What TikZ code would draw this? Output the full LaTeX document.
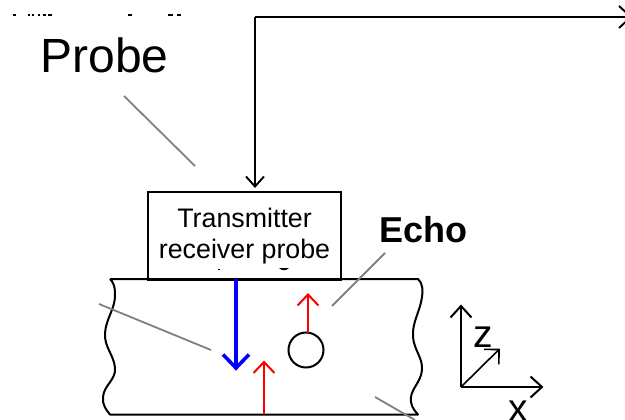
\documentclass[tikz,border=0pt]{standalone}
\usepackage{fontspec}
\setmainfont{Liberation Sans}
\usetikzlibrary{calc}
\tikzset{
  outline/.style={black,line width=2pt,line join=round},
  wire/.style={black,line width=1.9pt,line join=miter},
  axisline/.style={black,line width=2pt,line join=miter},
  axissmall/.style={black,line width=1.6pt,line join=miter},
  redarrow/.style={red,line width=2pt,line join=miter},
  bluearrow/.style={blue,line width=3.6pt,line join=miter},
  leader/.style={gray,line width=1.8pt},
  frag/.style={fill=black,draw=none},
  bigtext/.style={inner sep=0pt,font=\fontsize{48}{48}\selectfont},
  axtext/.style={inner sep=0pt,font=\fontsize{39}{39}\selectfont}
}
% arrow: line from #2 to #3 with an open, straight two-stroke head
\newcommand{\barbarrow}[5]{%
  \draw[#1] (#2) -- (#3);
  \draw[#1] ($(#3)!#4pt!(#2)!#5pt!90:(#3)$) -- (#3) -- ($(#3)!#4pt!(#2)!#5pt!-90:(#3)$);
}
\begin{document}
\begin{tikzpicture}[x=1pt,y=-1pt]
\useasboundingbox (0,0) rectangle (625,420);
\clip (0,0) rectangle (625,420);
% clipped text remnants
\foreach \a/\b in {13/16,28/30,32/34,38/40,43/46,48/52,128/132,168/173,177/181}
  \fill[frag] (\a,14) rectangle (\b,16.5);
% labels
\node[bigtext,anchor=base] (probelabel) at (104.5,73) {Probe};
\node[inner sep=0pt,anchor=base,font=\fontsize{36}{36}\selectfont\bfseries] (echolabel) at (423.5,242) {Echo};
% probe box
\node[draw,line width=2pt,minimum width=192.5pt,minimum height=87pt,inner sep=0pt,anchor=north west,
      align=center,font=\fontsize{26.8}{31}\selectfont] (probebox) at (147.3,191.5)
      {Transmitter\\receiver probe};
\fill[frag] (218,268.5) rectangle (220,270);
\fill[frag] (279,268) .. controls (282,271) and (286,271) .. (289,268) -- cycle;
% wiring
\coordinate (corner) at (255,17);
\coordinate (wireend) at (631,17);
\coordinate (wiredown) at (255,186.5);
\barbarrow{wire}{corner}{wireend}{12}{11}
\barbarrow{wire}{corner}{wiredown}{10}{9}
% specimen
\coordinate (tl) at (110,279);
\coordinate (tr) at (418,279);
\coordinate (bl) at (110,414.5);
\coordinate (br) at (418,414.5);
\draw[outline] (tl) -- (tr) .. controls (423,283) and (423,292) .. (422,297)
  .. controls (420,312) and (412,322) .. (413,337)
  .. controls (414,350) and (423,358) .. (422,370)
  .. controls (421,383) and (409,390) .. (411,402)
  .. controls (412,408) and (415,411) .. (br) -- (bl)
  .. controls (106,410) and (102,404) .. (103,397)
  .. controls (104,385) and (116,380) .. (115,368)
  .. controls (114,355) and (104,347) .. (105,333)
  .. controls (106,318) and (116,308) .. (115,293)
  .. controls (115,286) and (113,282) .. (tl);
% object
\node[draw,circle,line width=2pt,minimum size=35pt,inner sep=0pt] (object) at (306,350) {};
% waves
\coordinate (bluetop) at (236,279);
\coordinate (bluetip) at (236,368);
\barbarrow{bluearrow}{bluetop}{bluetip}{13.5}{13}
\coordinate (redbase) at (264,414);
\coordinate (redtip) at (264,362);
\barbarrow{redarrow}{redbase}{redtip}{11}{10.5}
\coordinate (echobase) at (308,332.5);
\coordinate (echotip) at (308,294.5);
\barbarrow{redarrow}{echobase}{echotip}{11}{10.5}
% leaders
\coordinate (la) at (124,96); \coordinate (lb) at (195,166);
\coordinate (lc) at (99,304); \coordinate (ld) at (211,350);
\coordinate (le) at (385,253); \coordinate (lf) at (332,306);
\coordinate (lg) at (375,397); \coordinate (lh) at (415,420);
\draw[leader] (la) -- (lb);
\draw[leader] (lc) -- (ld);
\draw[leader] (le) -- (lf);
\draw[leader] (lg) -- (lh);
% axes
\coordinate (origin) at (461,387);
\coordinate (zaxis) at (461,306);
\coordinate (xaxis) at (542,387);
\coordinate (yaxis) at (499,349.5);
\barbarrow{axisline}{origin}{zaxis}{11.5}{10.5}
\barbarrow{axisline}{origin}{xaxis}{11.5}{10.5}
\barbarrow{axissmall}{origin}{yaxis}{10.6}{10.6}
\node[axtext,anchor=base] (zlabel) at (483,347) {z};
\node[axtext,anchor=base] (xlabel) at (518,421) {x};
\end{tikzpicture}
\end{document}
